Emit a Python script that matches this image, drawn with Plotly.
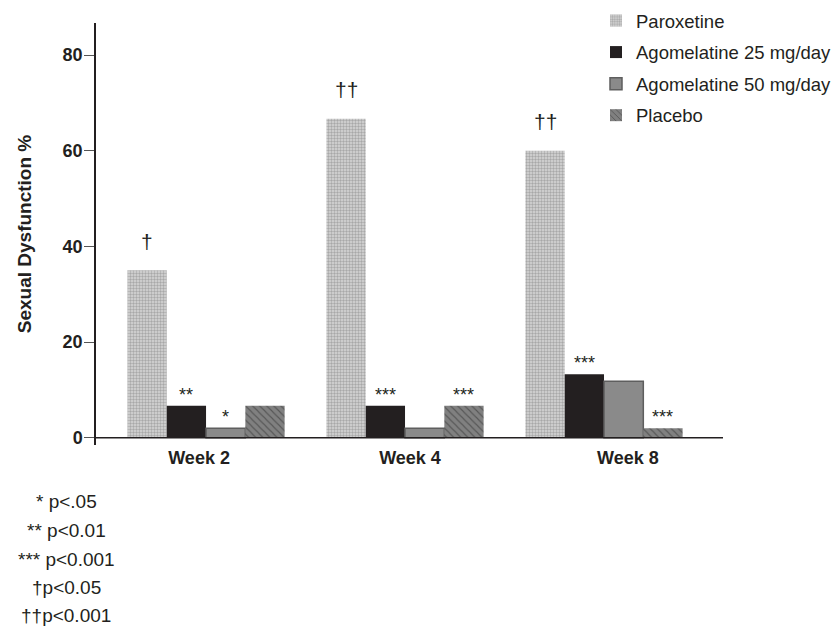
import plotly.graph_objects as go

# ---------------- data ----------------
weeks = ["Week 2", "Week 4", "Week 8"]
series_names = ["Paroxetine", "Agomelatine 25 mg/day", "Agomelatine 50 mg/day", "Placebo"]
paroxetine = [35.0, 66.7, 60.0]
agomelatine_25 = [6.7, 6.7, 13.3]
agomelatine_50 = [2.0, 2.0, 11.8]
placebo = [6.7, 6.7, 2.0]

sig_paroxetine = ["†", "††", "††"]
sig_agomelatine_25 = ["**", "***", "***"]
sig_agomelatine_50 = ["*", "", ""]
sig_placebo = ["", "***", "***"]

footnotes = ["* p<.05", "** p<0.01", "*** p<0.001", "†p<0.05", "††p<0.001"]
y_ticks = [0, 20, 40, 60, 80]
y_title = "Sexual Dysfunction %"

# ---------------- style ----------------
FONT = "Liberation Sans, Arial, Helvetica, sans-serif"
INK = "#231f20"
W, H = 838, 627
ML, MR, MT, MB = 96, 115, 23, 182
PW, PH = W - ML - MR, H - MT - MB
BARGAP = 0.21
label_offsets = [-0.035, 0.025, 0.12]
footnote_x_px = 66
footnote_y_px = [501, 530, 559, 587, 615]


def px_x(px):
    return (px - ML) / PW


def px_y(py):
    return (H - MB - py) / PH


values = [paroxetine, agomelatine_25, agomelatine_50, placebo]
sigs = [sig_paroxetine, sig_agomelatine_25, sig_agomelatine_50, sig_placebo]
xpos = list(range(len(weeks)))

markers = [
    dict(color="#d6d6d6",
         pattern=dict(shape=".", size=3, solidity=0.5, fgcolor="#787878", bgcolor="#d8d8d8"),
         line=dict(width=0)),
    dict(color="#231f20", line=dict(width=0)),
    dict(color="#8a8a8a", line=dict(color="#5e5e5e", width=1.5)),
    dict(color="#7c7c7c",
         pattern=dict(shape="\\", size=5, solidity=0.22, fgcolor="#2b2b2b", bgcolor="#808080"),
         line=dict(width=0)),
]

fig = go.Figure()
for name, vals, mk in zip(series_names, values, markers):
    fig.add_trace(go.Bar(x=xpos, y=vals, name=name, marker=mk, legendgroup=name))

# significance marks above bars
n = len(series_names)
slot = (1 - BARGAP) / n
for j, marks in enumerate(sigs):
    off = -(1 - BARGAP) / 2 + (j + 0.5) * slot
    for i, m in enumerate(marks):
        if not m:
            continue
        dagger = "†" in m
        fig.add_annotation(
            x=xpos[i] + off, y=values[j][i], xref="x", yref="y",
            text=m, showarrow=False, yanchor="middle",
            yshift=29 if dagger else 11,
            font=dict(family=FONT, size=21 if dagger else 18, color=INK),
        )

# footnotes
for txt, py in zip(footnotes, footnote_y_px):
    fig.add_annotation(
        x=px_x(footnote_x_px), y=px_y(py), xref="paper", yref="paper",
        text=txt, showarrow=False, xanchor="center", yanchor="middle",
        font=dict(family=FONT, size=19, color=INK),
    )

# x baseline at y=0
fig.add_shape(type="line", xref="paper", yref="y", x0=0, x1=1, y0=0, y1=0,
              line=dict(color=INK, width=1.5))

fig.update_layout(
    width=W, height=H,
    margin=dict(l=ML, r=MR, t=MT, b=MB, pad=0, autoexpand=False),
    paper_bgcolor="white", plot_bgcolor="white",
    barmode="group", bargap=BARGAP, bargroupgap=0,
    font=dict(family=FONT, color=INK),
    showlegend=True,
    legend=dict(
        x=px_x(596), y=px_y(2), xanchor="left", yanchor="top",
        font=dict(family=FONT, size=18.5, color=INK),
        traceorder="grouped", tracegroupgap=4.5,
        bgcolor="rgba(0,0,0,0)", itemwidth=30,
    ),
    xaxis=dict(
        range=[-0.553, 2.598],
        tickvals=[x + o for x, o in zip(xpos, label_offsets)],
        ticktext=[f"<b>{w}</b>" for w in weeks],
        tickfont=dict(family=FONT, size=18, color=INK),
        showgrid=False, zeroline=False, showline=False, ticks="",
        automargin=False,
    ),
    yaxis=dict(
        range=[-1.5, 86.7],
        tickvals=y_ticks,
        ticktext=[f"<b>{t}</b>" for t in y_ticks],
        tickfont=dict(family=FONT, size=18, color=INK),
        ticks="outside", ticklen=10, tickcolor="#555555", tickwidth=1,
        ticklabelstandoff=-2,
        showline=True, linecolor=INK, linewidth=1.5,
        showgrid=False, zeroline=False, automargin=False,
        title=dict(text=f"<b>{y_title}</b>", font=dict(family=FONT, size=19, color=INK), standoff=26),
    ),
)

fig.write_html(
    "out.html",
    config={"displayModeBar": False},
    post_script="document.body.style.margin='0';document.body.style.padding='0';",
)
